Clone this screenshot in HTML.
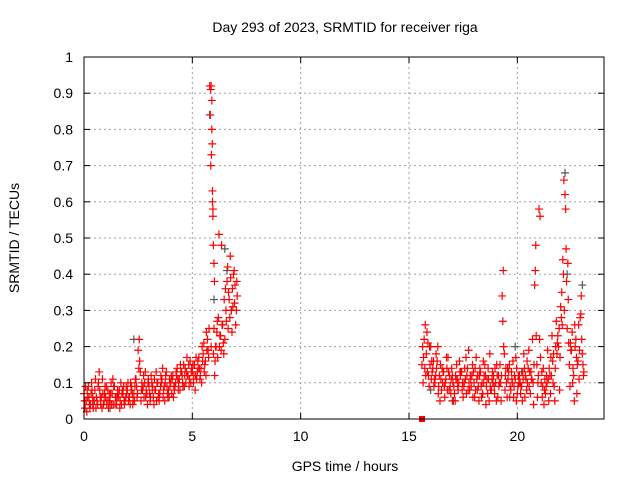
<!DOCTYPE html>
<html><head><meta charset="utf-8"><style>
body{margin:0;background:#fff}
svg text{font-family:"Liberation Sans",sans-serif;font-size:14px;fill:#000}
</style></head><body>
<svg id="chart" width="640" height="480" xmlns="http://www.w3.org/2000/svg">
<rect width="640" height="480" fill="#fff"/>
<g id="grid"></g>
<g id="marks"></g>
<rect x="84" y="57" width="520" height="362" fill="none" stroke="#000" stroke-width="1"/>
<g id="axes"></g>
<text x="345" y="32" text-anchor="middle">Day 293 of 2023, SRMTID for receiver riga</text>
<text x="345" y="471" text-anchor="middle">GPS time / hours</text>
<text transform="translate(19,238) rotate(-90)" text-anchor="middle">SRMTID / TECUs</text>
</svg>
<script>
const xTicks=[0,5,10,15,20];
const yTicks=[0,0.1,0.2,0.3,0.4,0.5,0.6,0.7,0.8,0.9,1];
const yTickLabels=["0","0.1","0.2","0.3","0.4","0.5","0.6","0.7","0.8","0.9","1"];
const segAStart=0.0, segBStart=15.6, step=0.1;
const tecA1=[.07,.05,.09,.04,.06,.08,.05,.13,.06,.04,.06,.08,.05,.07,.09,.04,.06,.10,.07,.05,.08,.06,.09,.07,.11,.19,.13,.08,.10,.07,.09,.12,.06,.08,.10,.07,.11,.09,.13,.08,.10,.12,.09,.14,.11,.13,.15,.10,.12,.16,.13,.15,.11,.17,.14,.18,.16,.22,.92,.80,.25,.20,.28,.23,.26,.22,.38,.33,.30,.40,.26];
const tecA2=[.03,.08,.04,.10,.05,.03,.09,.06,.11,.07,.04,.05,.10,.04,.06,.08,.03,.07,.05,.09,.05,.10,.04,.09,.06,.22,.08,.12,.06,.10,.05,.08,.11,.05,.07,.12,.06,.10,.07,.11,.07,.09,.13,.08,.15,.10,.12,.17,.09,.13,.10,.12,.16,.11,.20,.13,.24,.17,.70,.58,.16,.27,.20,.48,.18,.30,.25,.45,.36,.32,.38];
const tecA3=[.05,.02,.06,.07,.03,.11,.04,.08,.03,.05,.09,.03,.07,.11,.04,.06,.08,.04,.09,.06,.10,.04,.07,.05,.09,.14,.05,.09,.13,.04,.07,.10,.04,.13,.06,.09,.14,.05,.09,.06,.12,.06,.10,.11,.08,.12,.09,.13,.15,.10,.15,.08,.13,.14,.10,.21,.12,.19,.84,.63,.12,.24,.51,.19,.21,.36,.42,.28,.24,.41,.30];
const tecA4=[.09,.06,.03,.08,.05,.06,.10,.04,.07,.09,.05,.07,.04,.09,.06,.07,.05,.08,.04,.07,.06,.08,.05,.11,.07,.16,.10,.06,.08,.11,.06,.09,.08,.10,.05,.10,.08,.12,.06,.09,.11,.08,.12,.10,.13,.09,.14,.12,.11,.14,.12,.17,.14,.12,.16,.15,.19,.25,.20,.18,.20,.17,.23,.26,.33,.27,.35,.39,.31,.37,.34];
const tecB1=[.15,.22,.18,.12,.20,.14,.10,.16,.12,.08,.13,.11,.17,.09,.12,.07,.15,.10,.13,.06,.11,.14,.08,.12,.10,.17,.09,.13,.07,.15,.11,.05,.08,.12,.10,.06,.15,.34,.18,.10,.13,.08,.16,.11,.07,.12,.09,.18,.11,.14,.07,.22,.37,.15,.58,.10,.14,.07,.19,.12,.23,.09,.27,.20,.31,.44,.62,.25,.15,.19,.12,.22,.16,.28,.18];
const tecB2=[.10,.26,.13,.20,.16,.09,.18,.07,.15,.10,.06,.14,.08,.11,.05,.12,.09,.13,.08,.10,.07,.19,.11,.06,.14,.08,.12,.06,.10,.04,.14,.09,.13,.07,.15,.09,.05,.41,.12,.14,.06,.11,.09,.05,.12,.07,.13,.06,.16,.09,.11,.04,.48,.10,.56,.06,.08,.12,.05,.17,.10,.14,.21,.08,.35,.66,.47,.33,.21,.10,.26,.07,.11,.34,.12];
const tecB3=[.20,.14,.24,.09,.11,.16,.12,.20,.05,.14,.09,.17,.13,.07,.10,.05,.11,.16,.13,.09,.17,.08,.12,.15,.06,.11,.05,.09,.16,.12,.07,.18,.11,.09,.05,.12,.10,.27,.08,.06,.15,.13,.06,.17,.09,.10,.05,.14,.08,.19,.13,.10,.41,.06,.22,.13,.04,.09,.11,.07,.16,.05,.18,.25,.28,.40,.58,.43,.09,.24,.05,.17,.26,.29,.15];
const tecB4=[.17,.12,.21,.15,.13,.11,.14,.09,.11,.13,.10,.08,.12,.14,.09,.11,.08,.12,.10,.14,.12,.10,.09,.13,.08,.12,.14,.10,.12,.09,.11,.08,.10,.14,.12,.10,.12,.20,.14,.11,.09,.10,.12,.14,.10,.09,.11,.12,.10,.13,.11,.15,.23,.12,.17,.09,.11,.10,.14,.12,.18,.20,.23,.17,.26,.30,.38,.21,.19,.14,.20,.15,.19,.22,.13];
const spikeHours=[5.85,5.9,5.92,5.88,5.95,6.0,6.02,5.97,5.87,5.93];
const spikeVals=[.91,.88,.76,.73,.56,.43,.38,.48,.92,.60];
const grayHours=[2.3,5.8,6.0,6.5,6.6,6.8,16.0,17.0,18.4,19.9,20.2,22.2,22.3,23.0,0.4,1.2];
const grayVals=[.22,.84,.33,.47,.41,.30,.08,.05,.07,.20,.13,.68,.40,.37,.04,.03];
const zeroHours=[15.6];
const zeroVals=[0];

const X=h=>84+h*(520/24), Y=v=>419-v*362;
const NS="http://www.w3.org/2000/svg";
const grid=document.getElementById('grid'),axes=document.getElementById('axes'),marks=document.getElementById('marks');
function mk(tag,attrs,parent){const e=document.createElementNS(NS,tag);for(const k in attrs)e.setAttribute(k,attrs[k]);parent.appendChild(e);return e;}
xTicks.forEach(t=>{
 const x=X(t);
 if(t>0){const g=mk('line',{x1:x,x2:x,y1:57,y2:419,stroke:'#a0a0a0','stroke-dasharray':'2,3'},grid);
 
 }
 mk('line',{x1:x,x2:x,y1:419,y2:413,stroke:'#000'},axes);
 mk('line',{x1:x,x2:x,y1:57,y2:63,stroke:'#000'},axes);
 const l=mk('text',{x:x,y:441,'text-anchor':'middle'},axes);l.textContent=t;
 
 
});
yTicks.forEach((t,i)=>{
 const y=Y(t);
 if(t>0&&t<1){const g=mk('line',{x1:84,x2:604,y1:y,y2:y,stroke:'#a0a0a0','stroke-dasharray':'2,3'},grid);
 
 }
 mk('line',{x1:84,x2:90,y1:y,y2:y,stroke:'#000'},axes);
 mk('line',{x1:604,x2:598,y1:y,y2:y,stroke:'#000'},axes);
 const l=mk('text',{x:73,y:y+5,'text-anchor':'end'},axes);l.textContent=yTickLabels[i];
 
 
});
function plus(h,v,col){
 const x=X(h),y=Y(v);
 const p=mk('path',{d:`M${x-4},${y}H${x+4}M${x},${y-4}V${y+4}`,stroke:col,'stroke-width':1.2,fill:'none'},marks);
 
 
}
grayHours.forEach((h,i)=>plus(h,grayVals[i],'#555'));
[[tecA1,segAStart],[tecA2,segAStart+0.05],[tecA3,segAStart+0.03],[tecA4,segAStart+0.07],[tecB1,segBStart],[tecB2,segBStart+0.05],[tecB3,segBStart+0.03],[tecB4,segBStart+0.07]].forEach(([arr,s])=>{
 arr.forEach((v,i)=>plus(s+i*step,v,'#f00'));
});
spikeHours.forEach((h,i)=>plus(h,spikeVals[i],'#f00'));
zeroHours.forEach((h,i)=>{const r=mk('rect',{x:X(h)-3,y:Y(zeroVals[i])-3,width:6,height:6,fill:'#f00'},marks);
 
 });
</script>
</body></html>
